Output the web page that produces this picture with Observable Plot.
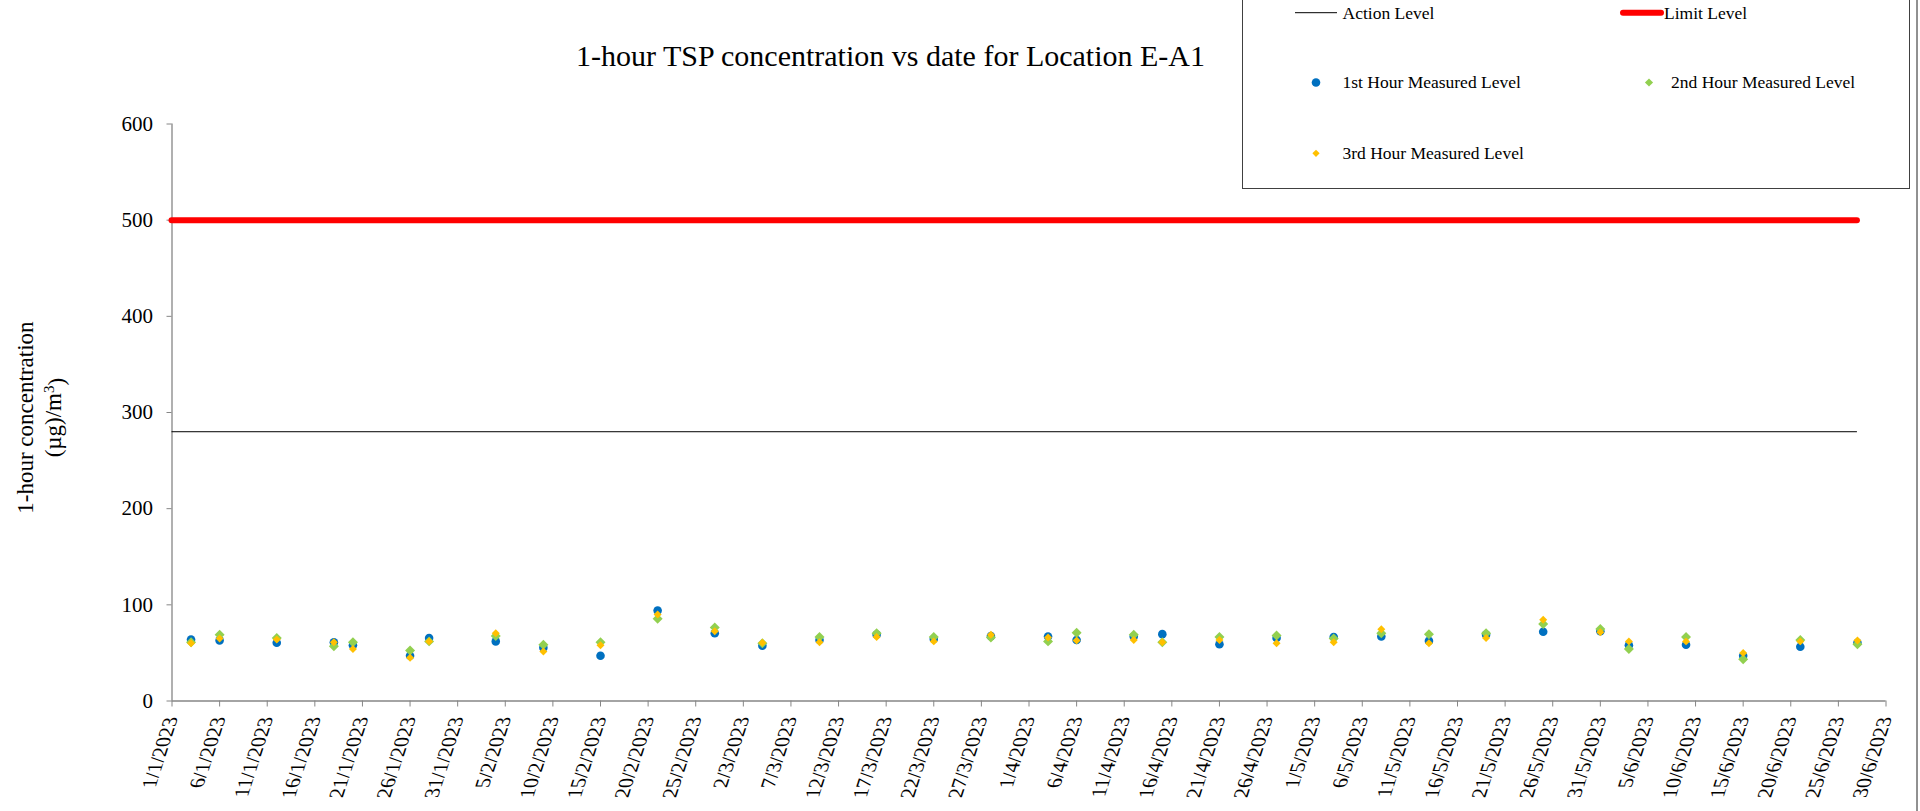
<!DOCTYPE html>
<html>
<head>
<meta charset="utf-8">
<script src="https://cdn.jsdelivr.net/npm/d3@7"></script>
<script src="https://cdn.jsdelivr.net/npm/@observablehq/plot@0.6"></script>
<style>
  html, body { margin: 0; padding: 0; background: #fff; }
  #chart { position: relative; width: 1920px; height: 811px; overflow: hidden; }
</style>
</head>
<body>
<div id="chart"></div>
<script>
// ---- data ----
const dates = ["2023-01-03","2023-01-06","2023-01-12","2023-01-18","2023-01-20","2023-01-26","2023-01-28",
  "2023-02-04","2023-02-09","2023-02-15","2023-02-21","2023-02-27","2023-03-04","2023-03-10","2023-03-16",
  "2023-03-22","2023-03-28","2023-04-03","2023-04-06","2023-04-12","2023-04-15","2023-04-21","2023-04-27",
  "2023-05-03","2023-05-08","2023-05-13","2023-05-19","2023-05-25","2023-05-31","2023-06-03","2023-06-09",
  "2023-06-15","2023-06-21","2023-06-27"];
const hour1 = [64, 63, 60.5, 61, 58, 47, 65.5, 62, 55.5, 47, 94, 70.5, 57.5, 63.5, 69, 64.5, 67.5,
  67, 63.5, 67, 69.5, 59, 65.5, 66.5, 67, 62.5, 69, 72, 72.5, 58, 58.5, 47, 56.5, 60.5];
const hour2 = [61, 69, 65.5, 57, 61, 52.5, 62, 67.5, 58.5, 61, 85.5, 76.5, 60, 66.5, 70.5, 66.5, 66,
  62, 71, 69, 61, 66.5, 68, 65, 70.5, 69.5, 70.5, 80, 75, 54, 66.5, 43.5, 63.5, 59];
const hour3 = [60, 65, 64, 61, 54, 45, 62, 70.5, 51.5, 58, 90, 72.5, 60.5, 61, 66.5, 62, 69,
  66, 63, 63.5, 61, 63.5, 60, 61, 74.5, 60, 65.5, 84.5, 71.5, 62, 62, 50, 62, 63];
const actionLevel = 280;
const limitLevel = 500;
const yTicks = [0, 100, 200, 300, 400, 500, 600];
const xTickLabels = ["1/1/2023","6/1/2023","11/1/2023","16/1/2023","21/1/2023","26/1/2023","31/1/2023",
  "5/2/2023","10/2/2023","15/2/2023","20/2/2023","25/2/2023","2/3/2023","7/3/2023","12/3/2023","17/3/2023",
  "22/3/2023","27/3/2023","1/4/2023","6/4/2023","11/4/2023","16/4/2023","21/4/2023","26/4/2023","1/5/2023",
  "6/5/2023","11/5/2023","16/5/2023","21/5/2023","26/5/2023","31/5/2023","5/6/2023","10/6/2023","15/6/2023",
  "20/6/2023","25/6/2023","30/6/2023"];
const seriesNames = ["Action Level", "Limit Level", "1st Hour Measured Level", "2nd Hour Measured Level", "3rd Hour Measured Level"];
const titleText = "1-hour TSP concentration vs date for Location E-A1";
const yLabelLine1 = "1-hour concentration";
const yLabelLine2 = "(µg)/m";
const yLabelSup = "3";

// ---- build ----
const parseISO = d3.utcParse("%Y-%m-%d");
const parseTick = d3.utcParse("%d/%m/%Y");
const fmt = d3.utcFormat("%-d/%-m/%Y");
const rows = dates.map((d, i) => ({date: parseISO(d), h1: hour1[i], h2: hour2[i], h3: hour3[i]}));
const xTicks = xTickLabels.map(parseTick);
const xStart = xTicks[0], xEnd = xTicks[xTicks.length - 1];
const lastDate = rows[rows.length - 1].date;
const levels = [
  {y: actionLevel, x1: xStart, x2: lastDate},
  {y: limitLevel, x1: xStart, x2: lastDate}
];
const FONT = "'Liberation Serif','Times New Roman',serif";
const AXIS = "#868686";
const C1 = "#0070C0", C2 = "#92D050", C3 = "#FFC000", CLIM = "#FF0000";

const plot = Plot.plot({
  width: 1920, height: 811,
  marginLeft: 171.5, marginRight: 34.5, marginTop: 123.5, marginBottom: 110.5,
  style: {fontFamily: FONT, fontSize: "21px", color: "#000", background: "#fff", overflow: "visible"},
  x: {type: "utc", domain: [xStart, xEnd]},
  y: {domain: [0, 600]},
  marks: [
    Plot.axisY({ticks: yTicks, tickSize: 5, tickPadding: 14, stroke: AXIS, label: null}),
    Plot.axisX({ticks: xTicks, tickFormat: fmt, tickSize: 6, tickPadding: 10, tickRotate: -75, stroke: AXIS, label: null}),
    Plot.ruleY([0], {stroke: AXIS, strokeWidth: 1.3}),
    Plot.ruleX([xStart], {stroke: AXIS, strokeWidth: 1.3}),
    Plot.ruleY([levels[0]], {y: "y", x1: "x1", x2: "x2", stroke: "#000", strokeWidth: 1}),
    Plot.ruleY([levels[1]], {y: "y", x1: "x1", x2: "x2", stroke: CLIM, strokeWidth: 6, strokeLinecap: "round"}),
    Plot.dot(rows, {x: "date", y: "h1", r: 4.3, fill: C1, symbol: "circle"}),
    Plot.dot(rows, {x: "date", y: "h2", r: 4.5, fill: C2, symbol: "diamond2"}),
    Plot.dot(rows, {x: "date", y: "h3", r: 3.6, fill: C3, symbol: "diamond2"})
  ]
});
document.getElementById("chart").appendChild(plot);

const svg = d3.select(plot);

// slanted tick labels (vertical glyphs on a slanted baseline, as in the source rendering)
const ang = 72 * Math.PI / 180;
const mat = `matrix(${Math.cos(ang).toFixed(4)},${(-Math.sin(ang)).toFixed(4)},1,0,0,0)`;
svg.selectAll('g[aria-label="x-axis tick label"] text').each(function () {
  const t = d3.select(this);
  const tr = t.attr("transform") || "";
  const m = /translate\(\s*([-\d.e]+)[ ,]+([-\d.e]+)\s*\)/.exec(tr);
  if (!m) return;
  t.attr("transform", `translate(${m[1]},${m[2]}) ${mat}`)
   .attr("text-anchor", "end").attr("y", "0.3em").attr("dy", null);
});

// chart right border
svg.append("line").attr("x1", 1917).attr("x2", 1917).attr("y1", 0).attr("y2", 811)
  .attr("stroke", "#222").attr("stroke-width", 1);

// title
svg.append("text").attr("x", 890.5).attr("y", 66).attr("text-anchor", "middle")
  .style("font-family", FONT).style("font-size", "30px").attr("fill", "#000").text(titleText);

// y axis label
svg.append("text").attr("transform", "translate(24.5,417.6) rotate(-90)")
  .attr("text-anchor", "middle").attr("dy", "0.35em")
  .style("font-family", FONT).style("font-size", "23px").attr("fill", "#000").text(yLabelLine1);
const l2 = svg.append("text").attr("transform", "translate(52.7,417.6) rotate(-90)")
  .attr("text-anchor", "middle").attr("dy", "0.35em")
  .style("font-family", FONT).style("font-size", "23px").attr("fill", "#000");
l2.append("tspan").text(yLabelLine2);
l2.append("tspan").attr("dy", "-0.45em").style("font-size", "15px").text(yLabelSup);
l2.append("tspan").attr("dy", "0.45em").text(")");

// legend
const lg = svg.append("g").style("font-family", FONT).style("font-size", "17.5px")
  .attr("text-anchor", "start");
lg.append("rect").attr("x", 1242.5).attr("y", -2).attr("width", 667).attr("height", 190.5)
  .attr("fill", "#fff").attr("stroke", "#404040").attr("stroke-width", 1);
const rowY = [12.7, 82.5, 153.3];
const colText = [1342.5, 1671];
const colSym = [1316, 1649];
const addText = (x, y, s) => lg.append("text").attr("x", x).attr("y", y + 5.8)
  .attr("text-anchor", "start").attr("fill", "#000").text(s);
// Action level
lg.append("line").attr("x1", 1295).attr("x2", 1337).attr("y1", rowY[0]).attr("y2", rowY[0])
  .attr("stroke", "#000").attr("stroke-width", 1);
addText(colText[0], rowY[0], seriesNames[0]);
// Limit level
lg.append("line").attr("x1", 1623).attr("x2", 1661).attr("y1", rowY[0]).attr("y2", rowY[0])
  .attr("stroke", CLIM).attr("stroke-width", 6).attr("stroke-linecap", "round");
addText(1664, rowY[0], seriesNames[1]);
// markers
lg.append("circle").attr("cx", colSym[0]).attr("cy", rowY[1]).attr("r", 4.3).attr("fill", C1);
addText(colText[0], rowY[1], seriesNames[2]);
lg.append("path").attr("transform", `translate(${colSym[1]},${rowY[1]})`)
  .attr("d", d3.symbol(d3.symbolDiamond2, 42)()).attr("fill", C2);
addText(colText[1], rowY[1], seriesNames[3]);
lg.append("path").attr("transform", `translate(${colSym[0]},${rowY[2]})`)
  .attr("d", d3.symbol(d3.symbolDiamond2, 34)()).attr("fill", C3);
addText(colText[0], rowY[2], seriesNames[4]);
</script>
</body>
</html>
